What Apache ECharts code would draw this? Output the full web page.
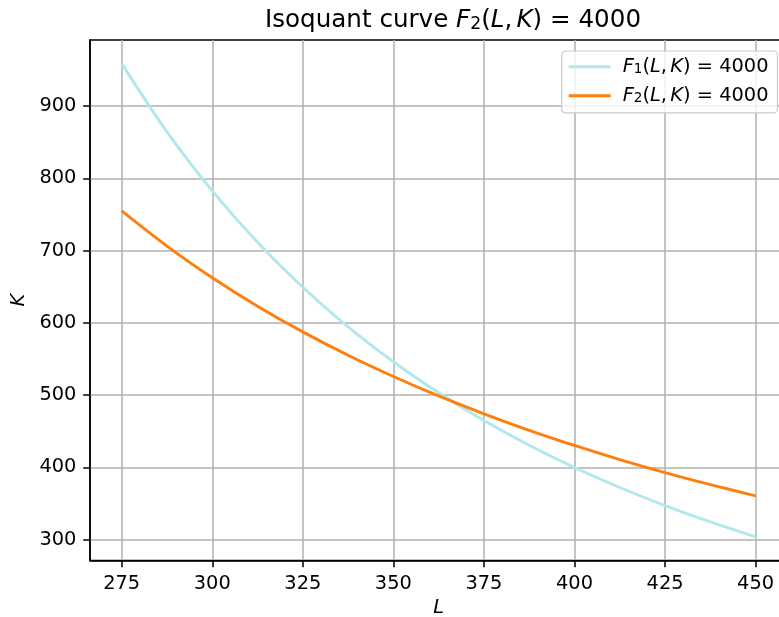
<!DOCTYPE html>
<html>
<head>
<meta charset="utf-8">
<script src="https://cdn.jsdelivr.net/npm/echarts@6/dist/echarts.min.js"></script>
<style>
  html, body { margin: 0; padding: 0; background: #fff; }
  #chart { width: 779px; height: 617px; }
</style>
</head>
<body>
<div id="chart"></div>
<script>
// Labour input L (x) and the capital K needed to reach output 4000
const laborL = [275, 287.5, 300, 312.5, 325, 337.5, 350, 362.5, 375, 387.5, 400, 412.5, 425, 437.5, 450];
const capitalF1 = [958.8, 864.4, 782.7, 711.5, 649.3, 594.5, 546.2, 503.3, 465.0, 430.8, 399.9, 372.2, 347.2, 324.5, 303.9];
const capitalF2 = [755.0, 706.3, 662.6, 623.2, 587.6, 555.3, 525.9, 498.9, 474.2, 451.4, 430.4, 410.9, 392.9, 376.3, 360.7];

const xTicks = [275, 300, 325, 350, 375, 400, 425, 450];
const yTicks = [300, 400, 500, 600, 700, 800, 900];

const seriesNames = ['F1(L, K) = 4000', 'F2(L, K) = 4000'];
const seriesColors = ['#b0e8ec', '#ff7f0e'];

const FONT = 'DejaVu Sans';
const TICK_SIZE = 19.4;

// math-style rich text pieces: italic symbols, upright digits, small subscript, thin space
function mathRich(size) {
  return {
    n: { fontFamily: FONT, fontSize: size, fontWeight: 'normal', color: '#000' },
    i: { fontFamily: FONT, fontSize: size, fontWeight: 'normal', fontStyle: 'italic', color: '#000' },
    s: { fontFamily: FONT, fontSize: size * 0.7, fontWeight: 'normal', color: '#000', padding: [size * 0.32, 0, 0, 0] },
    t: { width: size * 0.17 }
  };
}
function mathLabel(sub) {
  return '{i|F}{s|' + sub + '}{n|(}{i|L}{n|,}{t|}{i|K}{n|) = 4000}';
}

const pairs = arr => laborL.map((x, k) => [x, arr[k]]);

const chart = echarts.init(document.getElementById('chart'), null, { renderer: 'canvas' });

const legendRich = mathRich(TICK_SIZE);
legendRich.p = { width: 7 };

chart.setOption({
  animation: false,
  backgroundColor: '#fff',
  title: {
    text: '{n|Isoquant curve }' + mathLabel(2),
    left: 448,
    textAlign: 'center',
    top: 3,
    textStyle: { fontWeight: 'normal', rich: mathRich(24.6) }
  },
  grid: {
    left: 90, top: 40, right: -8.3, bottom: 56.5,
    show: true, borderColor: '#000', borderWidth: 1.5,
    containLabel: false,
    outerBoundsMode: 'none'
  },
  legend: {
    orient: 'vertical',
    right: 1.5, top: 51,
    padding: [5.7, 9, 7, 7],
    icon: 'rect',
    itemWidth: 42, itemHeight: 2.9, itemGap: 9,
    backgroundColor: 'rgba(255,255,255,0.8)',
    borderColor: '#cccccc', borderWidth: 1.2, borderRadius: 4,
    data: seriesNames,
    formatter: name => '{p|}' + mathLabel(name === seriesNames[0] ? 1 : 2),
    textStyle: { rich: legendRich, lineHeight: 20, height: 20 }
  },
  xAxis: {
    type: 'value',
    min: 266.25, max: 458.75,
    name: 'L',
    nameLocation: 'middle',
    nameGap: 37,
    nameTextStyle: { fontFamily: FONT, fontSize: TICK_SIZE, fontStyle: 'italic', color: '#000' },
    axisLine: { show: true, onZero: false, lineStyle: { color: '#000', width: 1.5 } },
    axisTick: { show: true, inside: false, length: 6.8, customValues: xTicks, lineStyle: { color: '#000', width: 1.5 } },
    axisLabel: { margin: 13.6, customValues: xTicks, fontFamily: FONT, fontSize: TICK_SIZE, color: '#000' },
    splitLine: { show: true, lineStyle: { color: '#b0b0b0', width: 1.5 } }
  },
  yAxis: {
    type: 'value',
    min: 271.2, max: 991.5,
    name: 'K',
    nameLocation: 'middle',
    nameRotate: 90,
    nameGap: 56,
    nameTextStyle: { fontFamily: FONT, fontSize: TICK_SIZE, fontStyle: 'italic', color: '#000' },
    axisLine: { show: true, onZero: false, lineStyle: { color: '#000', width: 1.5 } },
    axisTick: { show: true, inside: false, length: 6.8, customValues: yTicks, lineStyle: { color: '#000', width: 1.5 } },
    axisLabel: { margin: 13.6, customValues: yTicks, fontFamily: FONT, fontSize: TICK_SIZE, color: '#000' },
    splitLine: { show: true, lineStyle: { color: '#b0b0b0', width: 1.5 } }
  },
  series: [
    {
      name: seriesNames[0], type: 'line', data: pairs(capitalF1),
      smooth: 0.3, symbol: 'none', clip: true,
      lineStyle: { color: seriesColors[0], width: 2.9 },
      itemStyle: { color: seriesColors[0] }
    },
    {
      name: seriesNames[1], type: 'line', data: pairs(capitalF2),
      smooth: 0.3, symbol: 'none', clip: true,
      lineStyle: { color: seriesColors[1], width: 2.9 },
      itemStyle: { color: seriesColors[1] }
    }
  ]
});
</script>
</body>
</html>
